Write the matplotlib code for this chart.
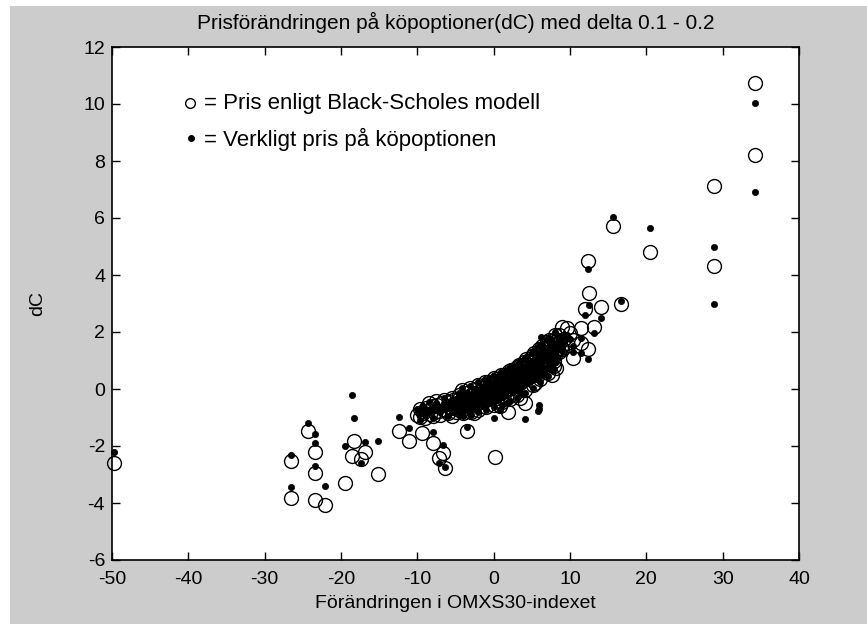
import matplotlib
matplotlib.use("Agg")
import matplotlib.pyplot as plt
from matplotlib.patches import Rectangle

# Change in the OMXS30 index together with the option price change (dC):
# model price (Black-Scholes) and the observed market price.
index_change = [
    -49.8, -26.6, -26.6, -24.3, -23.4, -23.4, -23.4, -22.1, -19.5, -18.3,
    -18.5, -16.8, -17.4, -15.1, -12.4, -11.1, -9.4, -9.7, -7.9, -6.6,
    -7.1, -6.4, 0.2, -3.5, 1.9, 4.1, 5.9, 6.0, 5.8, 6.2,
    0.1, 34.2, 34.2, 28.8, 28.8, 20.5, 15.6, 12.4, 12.5, 11.9,
    14.1, 16.7, 12.4, 9.6, 11.5, 13.1, 10.4, 8.2, 8.9, 10.4,
    11.4,
    -10.0, -9.6, -9.2, -8.8, -8.4, -8.0, -7.7, -7.4, -7.1, -6.8,
    -6.5, -6.2, -5.9, -5.6, -5.3, -5.0, -4.8, -4.6, -4.4, -4.2,
    -4.0, -3.8, -3.6, -3.4, -3.2, -3.0, -2.8, -2.6, -2.4, -2.2,
    -2.0, -1.8, -1.6, -1.4, -1.2, -1.0, -0.8, -0.6, -0.4, -0.2,
    0.0, 0.2, 0.4, 0.6, 0.8, 1.0, 1.2, 1.4, 1.6, 1.8,
    2.0, 2.2, 2.4, 2.6, 2.8, 3.0, 3.2, 3.4, 3.6, 3.8,
    4.0, 4.2, 4.4, 4.6, 4.8, 5.0, 5.3, 5.6, 5.9, 6.2,
    6.5, 6.8, 7.1, 7.4, 7.7, 8.0, 8.4, 8.8, 9.2, 9.6,
    10.0,
    -9.0, -8.0, -7.0, -6.0, -5.0, -4.5, -4.0, -3.5, -3.0, -2.5,
    -2.0, -1.5, -1.0, -0.5, 0.0, 0.5, 1.0, 1.5, 2.0, 2.5,
    3.0, 3.5, 4.0, 4.5, 5.0, 5.5, 6.0, 6.5, 7.0, 7.5,
    8.0, 8.5, 9.0,
    -8.5, -7.5, -6.5, -5.5, -4.5, -3.5, -2.5, -1.5, -0.5, 0.5,
    1.5, 2.5, 3.5, 4.5, 5.5, 6.5, 7.5, 8.5,
    -5.8, -5.2, -4.7, -4.3, -3.9, -3.3, -2.9, -2.3, -1.9, -1.3,
    -0.9, -0.3, 0.3, 0.7, 1.1, 1.7, 2.1, 2.7, 3.1, 3.7,
    4.1, 4.7, 5.2, 5.7, 6.3, 6.8, 7.3, 7.8, 8.3, 8.7,
    -1.1, -0.1, 0.9, 1.9, 2.9, 3.9, 4.9, 5.9, 6.9, 7.9,
    -0.7, 0.3, 1.3, 2.3, 3.3, 4.3, 5.3, 6.3, 7.3,
    -4.1, -3.1, -2.1, -1.1, 0.0, 1.0, 2.0, 3.0, 4.0, 5.0,
    6.0, 7.0, 8.0,
    -4.0, -3.0, -2.0, -1.0, 0.1, 1.1, 2.1, 3.1, 4.1, 5.1,
    6.1, 7.1, 7.9,
    -5.5, -2.6, 0.8, 3.4, 5.4, 7.6,
]

dc_model = [
    -2.61, -2.53, -3.84, -1.46, -2.20, -2.94, -3.90, -4.07, -3.29, -1.84,
    -2.34, -2.20, -2.47, -2.98, -1.46, -1.82, -1.53, -0.97, -1.91, -2.23,
    -2.43, -2.78, -2.40, -1.47, -0.80, -0.50, 0.60, 0.70, 0.50, 1.00,
    -0.35, 10.75, 8.20, 7.12, 4.31, 4.80, 5.73, 4.49, 3.36, 2.80,
    2.86, 2.98, 1.39, 2.13, 2.13, 2.19, 1.72, 0.73, 2.16, 1.08,
    1.60,
    -0.90, -0.70, -0.85, -0.65, -0.88, -0.60, -0.80, -0.55, -0.78, -0.50,
    -0.72, -0.74, -0.45, -0.68, -0.40, -0.62, -0.48, -0.35, -0.58, -0.40,
    -0.28, -0.55, -0.32, -0.48, -0.25, -0.45, -0.20, -0.40, -0.15, -0.35,
    -0.10, -0.30, -0.08, -0.25, -0.02, -0.22, -0.05, -0.18, 0.05, -0.15,
    0.08, -0.10, 0.12, -0.02, 0.20, 0.05, 0.25, 0.10, 0.30, 0.15,
    0.35, 0.20, 0.42, 0.28, 0.50, 0.32, 0.55, 0.40, 0.62, 0.48,
    0.70, 0.55, 0.78, 0.62, 0.85, 0.70, 0.95, 0.80, 1.05, 0.90,
    1.15, 1.02, 1.28, 1.15, 1.42, 1.30, 1.58, 1.45, 1.75, 1.62,
    1.95,
    -1.00, -0.95, -0.90, -0.85, -0.80, -0.75, -0.70, -0.65, -0.60, -0.55,
    -0.50, -0.45, -0.40, -0.35, -0.28, -0.22, -0.15, -0.08, 0.00, 0.08,
    0.15, 0.22, 0.30, 0.38, 0.48, 0.58, 0.68, 0.80, 0.92, 1.05,
    1.18, 1.30, 1.42,
    -0.50, -0.42, -0.38, -0.30, -0.22, -0.15, -0.05, 0.05, 0.15, 0.28,
    0.42, 0.60, 0.80, 1.00, 1.22, 1.45, 1.68, 1.90,
    -0.62, -0.55, -0.50, -0.45, -0.42, -0.38, -0.32, -0.28, -0.20, -0.15,
    -0.10, -0.02, 0.05, 0.10, 0.15, 0.22, 0.28, 0.40, 0.45, 0.55,
    0.62, 0.72, 0.82, 0.92, 1.05, 1.18, 1.30, 1.45, 1.55, 1.70,
    -0.35, -0.25, -0.10, 0.05, 0.15, 0.30, 0.45, 0.62, 0.80, 0.98,
    0.25, 0.35, 0.50, 0.65, 0.85, 1.05, 1.25, 1.50, 1.72,
    -0.05, 0.05, 0.15, 0.25, 0.38, 0.50, 0.62, 0.78, 0.95, 1.15,
    1.40, 1.65, 1.90,
    -0.85, -0.80, -0.72, -0.62, -0.55, -0.45, -0.35, -0.20, -0.05, 0.15,
    0.35, 0.55, 0.80,
    -0.95, -0.85, -0.60, -0.30, 0.20, 0.50,
]

dc_real = [
    -2.20, -2.32, -3.45, -1.18, -1.91, -2.70, -1.59, -3.39, -2.00, -1.00,
    -0.22, -1.87, -2.61, -1.81, -0.97, -1.38, -0.62, -1.10, -1.50, -1.95,
    -2.60, -2.75, -0.30, -1.32, -0.45, -1.06, -0.56, -0.70, -0.78, 1.84,
    -1.00, 10.05, 6.92, 5.00, 3.00, 5.65, 6.05, 4.21, 2.95, 2.60,
    2.48, 3.10, 1.04, 1.85, 1.80, 1.95, 1.50, 0.95, 1.75, 1.30,
    1.25,
    -0.70, -0.85, -0.62, -0.80, -0.70, -0.78, -0.55, -0.75, -0.62, -0.70,
    -0.48, -0.60, -0.66, -0.42, -0.60, -0.38, -0.70, -0.52, -0.30, -0.62,
    -0.45, -0.35, -0.50, -0.22, -0.42, -0.30, -0.38, -0.15, -0.32, -0.20,
    -0.28, -0.05, -0.25, -0.12, -0.20, 0.02, -0.18, 0.05, -0.12, 0.10,
    -0.10, 0.15, -0.05, 0.20, 0.02, 0.25, 0.08, 0.30, 0.12, 0.35,
    0.18, 0.40, 0.25, 0.48, 0.30, 0.55, 0.38, 0.62, 0.45, 0.70,
    0.52, 0.78, 0.60, 0.85, 0.68, 0.92, 0.78, 1.02, 0.88, 1.12,
    0.98, 1.25, 1.10, 1.40, 1.25, 1.55, 1.42, 1.70, 1.58, 1.88,
    1.75,
    -0.92, -1.02, -0.82, -0.95, -0.72, -0.85, -0.62, -0.75, -0.52, -0.65,
    -0.42, -0.55, -0.32, -0.45, -0.20, -0.32, -0.05, -0.18, 0.08, -0.02,
    0.25, 0.12, 0.40, 0.28, 0.58, 0.48, 0.80, 0.70, 1.02, 0.95,
    1.08, 1.40, 1.32,
    -0.45, -0.50, -0.30, -0.38, -0.15, -0.22, 0.00, -0.02, 0.22, 0.20,
    0.50, 0.52, 0.88, 0.92, 1.30, 1.38, 1.75, 1.82,
    -0.52, -0.45, -0.58, -0.40, -0.48, -0.32, -0.40, -0.22, -0.28, -0.08,
    -0.15, -0.06, 0.00, 0.15, 0.10, 0.28, 0.22, 0.35, 0.50, 0.60,
    0.58, 0.78, 0.75, 0.98, 1.00, 1.22, 1.25, 1.50, 1.60, 1.62,
    -0.45, -0.35, -0.20, -0.05, 0.05, 0.20, 0.35, 0.52, 0.72, 0.90,
    0.30, 0.42, 0.55, 0.72, 0.92, 1.12, 1.32, 1.55, 1.80,
    0.05, 0.12, 0.25, 0.32, 0.45, 0.58, 0.72, 0.85, 1.05, 1.25,
    1.50, 1.72, 2.00,
    -0.95, -0.90, -0.80, -0.72, -0.62, -0.55, -0.42, -0.30, -0.15, 0.05,
    0.25, 0.45, 0.70,
    -0.80, -0.70, -0.75, -0.15, 0.35, 0.65,
]

x_ticks = [-50, -40, -30, -20, -10, 0, 10, 20, 30, 40]
y_ticks = [-6, -4, -2, 0, 2, 4, 6, 8, 10, 12]

title_text = "Prisförändringen på köpoptioner(dC) med delta 0.1 - 0.2"
x_label = "Förändringen i OMXS30-indexet"
y_label = "dC"
model_text = "= Pris enligt Black-Scholes modell"
real_text = "= Verkligt pris på köpoptionen"

plt.rcParams["font.family"] = ["Liberation Sans", "DejaVu Sans"]
FS = 14

W, H = 867, 624
fig = plt.figure(figsize=(W / 100, H / 100), dpi=100)
fig.patch.set_facecolor("white")
fig.patches.append(Rectangle((10 / W, 0), 1 - 10 / W, 1 - 6 / H,
                             transform=fig.transFigure, facecolor="#cccccc",
                             edgecolor="none", zorder=-10))

ax = fig.add_axes([112 / W, (H - 560) / H, 687 / W, 513 / H])
ax.set_facecolor("white")
ax.set_xlim(-50, 40)
ax.set_ylim(-6, 12)
ax.set_xticks(x_ticks)
ax.set_yticks(y_ticks)
ax.set_xticklabels([str(v) for v in x_ticks])
ax.set_yticklabels([str(v) for v in y_ticks])
ax.tick_params(direction="in", length=6, width=1.0, colors="black",
               labelsize=FS, top=True, right=True)
ax.tick_params(axis="x", pad=8)
ax.tick_params(axis="y", pad=5)
for sp in ax.spines.values():
    sp.set_linewidth(1.2)
    sp.set_color("black")

ax.plot(index_change, dc_model, linestyle="none", marker="o", markersize=10,
        markerfacecolor="none", markeredgecolor="black", markeredgewidth=1.0,
        clip_on=False, zorder=3)
ax.plot(index_change, dc_real, linestyle="none", marker="o", markersize=4.5,
        markerfacecolor="black", markeredgecolor="black", markeredgewidth=0.5,
        clip_on=False, zorder=4)

# in-axes key for the two marker types
ax.plot([-39.8], [10.03], linestyle="none", marker="o", markersize=7,
        markerfacecolor="none", markeredgecolor="black", markeredgewidth=1.0)
ax.plot([-39.7], [8.8], linestyle="none", marker="o", markersize=4,
        markerfacecolor="black", markeredgecolor="black")
ax.text(-38.0, 10.03, model_text, fontsize=16, va="center", ha="left")
ax.text(-38.0, 8.76, real_text, fontsize=16, va="center", ha="left")

ax.set_title(title_text, fontsize=15, pad=13)
ax.set_xlabel(x_label, fontsize=FS, labelpad=5)
ax.set_ylabel(y_label, fontsize=FS, labelpad=27)

fig.savefig("out.png", dpi=100, facecolor=fig.get_facecolor())
